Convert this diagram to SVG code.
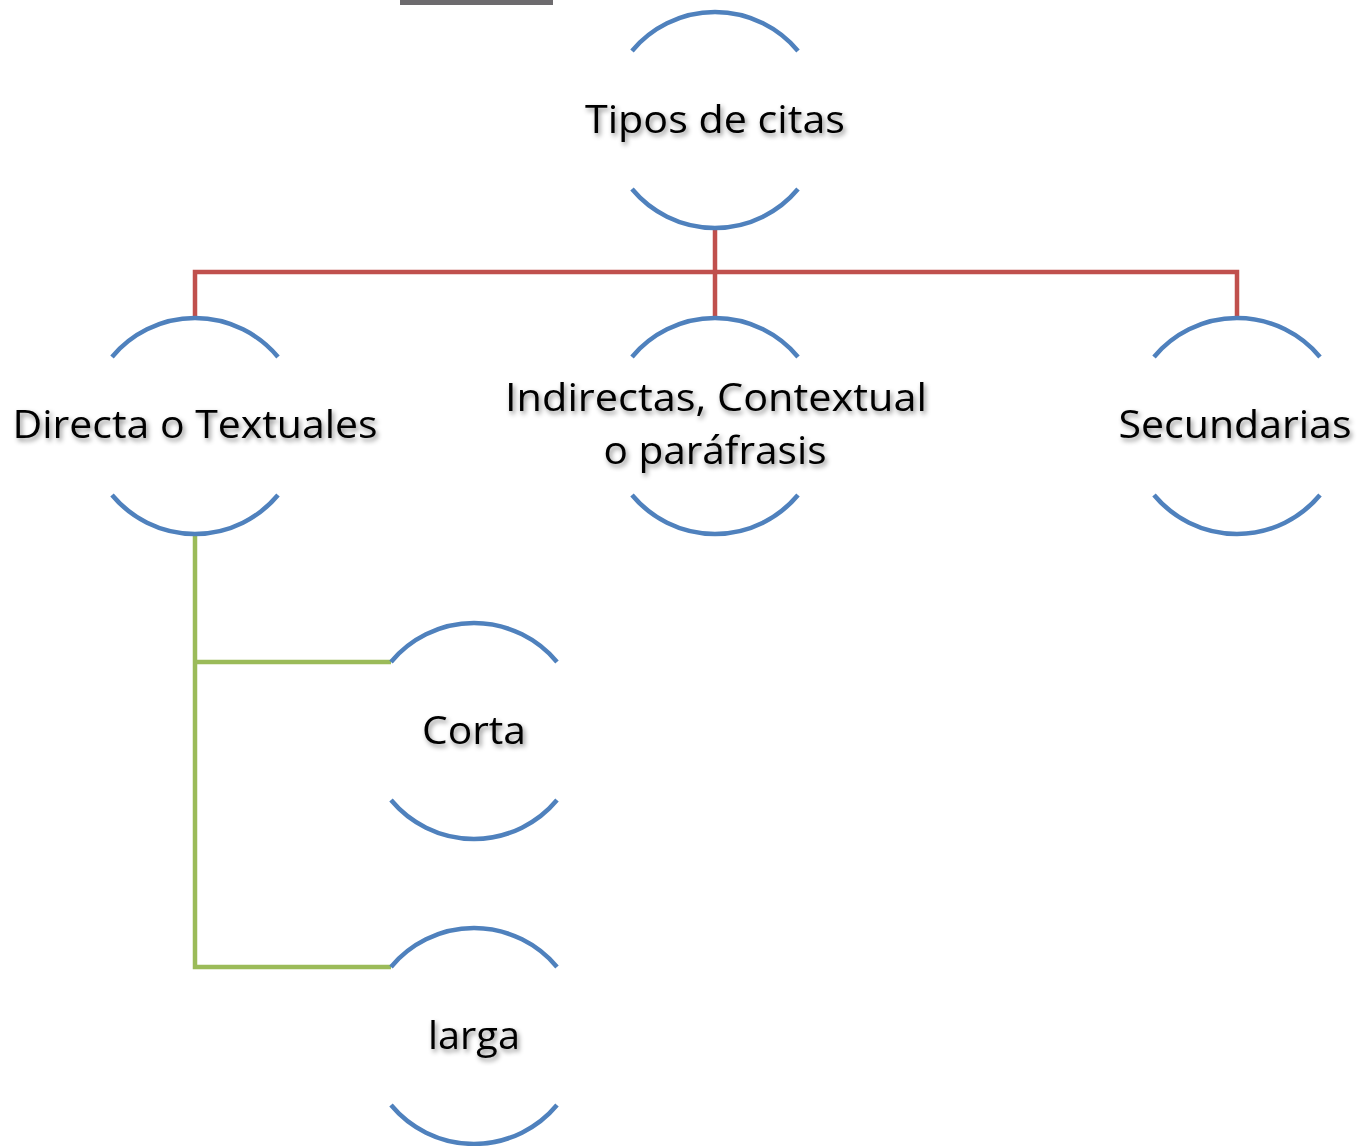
<svg xmlns="http://www.w3.org/2000/svg" width="1359" height="1146" viewBox="0 0 1359 1146">
<defs>
<filter id="sh" x="-10%" y="-30%" width="120%" height="160%">
<feDropShadow dx="2" dy="3" stdDeviation="2.5" flood-color="#000" flood-opacity="0.45"/>
</filter>
</defs>
<style>
.arc{fill:none;stroke:#4f81bd;stroke-width:4.5}
.red{fill:none;stroke:#c0504d;stroke-width:4.5}
.grn{fill:none;stroke:#9bbb59;stroke-width:4.5}
text{font-family:"Open Sans","Liberation Sans",sans-serif;font-size:38px;fill:#000;text-anchor:middle;filter:url(#sh)}
</style>
<rect x="400" y="0" width="153" height="5" fill="#6d6b6e"/>
<g id="connectors">
<path class="red" d="M715 228V317M195 317V272H1237V317"/>
<path class="grn" d="M195 535V967H391M195 662H391"/>
</g>
<g id="n-tipos">
<path class="arc" d="M632 51A108 108 0 0 1 798 51M632 189A108 108 0 0 0 798 189"/>
<text x="715" y="133" textLength="260" lengthAdjust="spacingAndGlyphs">Tipos de citas</text>
</g>
<g id="n-directa">
<path class="arc" d="M112 357A108 108 0 0 1 278 357M112 495A108 108 0 0 0 278 495"/>
<text x="195" y="438" textLength="365" lengthAdjust="spacingAndGlyphs">Directa o Textuales</text>
</g>
<g id="n-indirectas">
<path class="arc" d="M632 357A108 108 0 0 1 798 357M632 495A108 108 0 0 0 798 495"/>
<text x="716" y="411" textLength="422" lengthAdjust="spacingAndGlyphs">Indirectas, Contextual</text>
<text x="715" y="464" textLength="223" lengthAdjust="spacingAndGlyphs">o paráfrasis</text>
</g>
<g id="n-secundarias">
<path class="arc" d="M1154 357A108 108 0 0 1 1320 357M1154 495A108 108 0 0 0 1320 495"/>
<text x="1235" y="438" textLength="233" lengthAdjust="spacingAndGlyphs">Secundarias</text>
</g>
<g id="n-corta">
<path class="arc" d="M391 662A108 108 0 0 1 557 662M391 800A108 108 0 0 0 557 800"/>
<text x="474" y="744" textLength="104" lengthAdjust="spacingAndGlyphs">Corta</text>
</g>
<g id="n-larga">
<path class="arc" d="M391 967A108 108 0 0 1 557 967M391 1105A108 108 0 0 0 557 1105"/>
<text x="474" y="1049" textLength="92" lengthAdjust="spacingAndGlyphs">larga</text>
</g>
</svg>
